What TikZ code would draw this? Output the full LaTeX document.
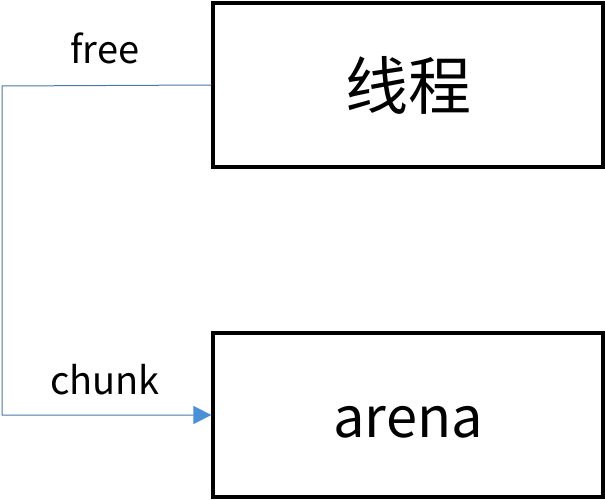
\documentclass[tikz,border=0pt]{standalone}
\usepackage{fontspec}
\setmainfont{Noto Sans CJK SC}
\usetikzlibrary{arrows.meta}
\definecolor{linkblue}{HTML}{4A78A8}
\definecolor{tipblue}{HTML}{4A90D9}
\tikzset{
  box/.style={draw=black, line width=3.2pt, minimum width=390pt, minimum height=164pt, inner sep=0pt},
  cjktext/.style={font=\fontsize{63}{72}\selectfont},
  bigtext/.style={font=\fontsize{56}{66}\selectfont},
  lbl/.style={font=\fontsize{38}{44}\selectfont, inner sep=0pt},
  link/.style={draw=linkblue, line width=1pt, -{Triangle[length=18pt,width=18pt,color=tipblue]}}
}
\begin{document}
\begin{tikzpicture}[x=1pt,y=1pt]
\useasboundingbox (0,0) rectangle (605,-500);
\node[box, cjktext] (thread) at (408,-85) {线程};
\node[box, bigtext, text height=44pt, text depth=0pt] (arena) at (408,-415) {arena};
\coordinate (corner) at (2,-86);
\draw[link] (thread.west) -- (corner) |- (arena.west);
\node[lbl] (free) at (105,-48) {free};
\node[lbl] (chunk) at (105,-380) {chunk};
\end{tikzpicture}
\end{document}
